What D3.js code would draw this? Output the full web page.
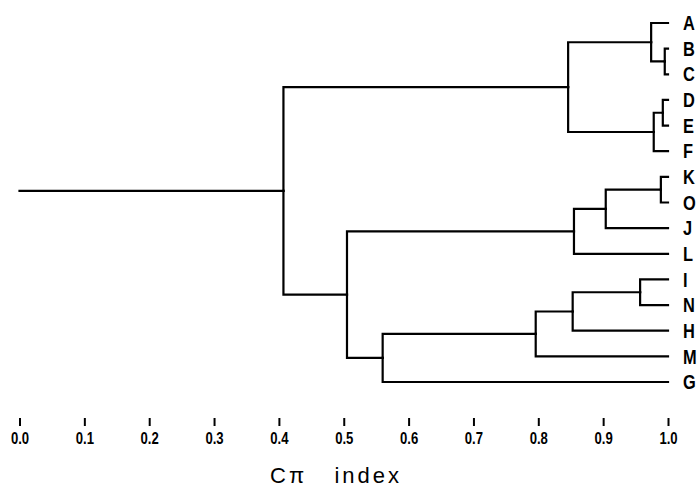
<!DOCTYPE html>
<html>
<head>
<meta charset="utf-8">
<title>Dendrogram</title>
<script src="https://d3js.org/d3.v7.min.js"></script>
<style>
  body { margin: 0; background: #fff; }
  svg { display: block; }
</style>
</head>
<body>
<svg id="chart" width="699" height="493"></svg>
<script>
// leaf order, top to bottom
const leaves = ["A", "B", "C", "D", "E", "F", "K", "O", "J", "L", "I", "N", "H", "M", "G"];

// merges: [left cluster, right cluster, Cpi index at which they join]
const merges = [
  ["B", "C", 0.995],
  ["D", "E", 0.992],
  ["K", "O", 0.989],
  ["A", "BC", 0.974],
  ["DE", "F", 0.978],
  ["I", "N", 0.957],
  ["KO", "J", 0.904],
  ["KOJ", "L", 0.855],
  ["IN", "H", 0.853],
  ["ABC", "DEF", 0.846],
  ["INH", "M", 0.796],
  ["INHM", "G", 0.560],
  ["KOJL", "INHMG", 0.505],
  ["ABCDEF", "KOJLINHMG", 0.407]
];

const tickValues = [0, 0.1, 0.2, 0.3, 0.4, 0.5, 0.6, 0.7, 0.8, 0.9, 1.0];
const tickLabels = ["0.0", "0.1", "0.2", "0.3", "0.4", "0.5", "0.6", "0.7", "0.8", "0.9", "1.0"];
const axisTitle = "Cπ   index";

const svg = d3.select("#chart");

// build the tree
const nodes = {};
leaves.forEach(n => nodes[n] = { name: n, h: 1.0 });
let treeTop;
merges.forEach(m => {
  const node = { name: m[0] + m[1], h: m[2], children: [nodes[m[0]], nodes[m[1]]] };
  nodes[node.name] = node;
  treeTop = node;
});
const root = d3.hierarchy(treeTop);

const x = d3.scaleLinear().domain([0, 1]).range([19.5, 668]);
const y = d3.scalePoint().domain(leaves).range([23, 382]);

// leaf y from order, inner node y = middle of its children
root.eachAfter(d => {
  if (!d.children) d.y = y(d.data.name);
  else d.y = d3.mean(d.children, c => c.y);
});

const g = svg.append("g")
  .attr("fill", "none")
  .attr("stroke", "#000")
  .attr("stroke-width", 2.2)
  .attr("stroke-linecap", "square");

g.selectAll("path.link")
  .data(root.links())
  .join("path")
  .attr("class", "link")
  .attr("d", l => "M" + x(l.source.data.h) + "," + l.source.y +
    "V" + l.target.y + "H" + x(l.target.data.h));

// stem of the root back to 0
g.append("path")
  .attr("d", "M" + x(0) + "," + root.y + "H" + x(root.data.h));

// leaf labels, narrow bold
svg.selectAll("text.leaf")
  .data(root.leaves())
  .join("text")
  .attr("class", "leaf")
  .attr("transform", d => "translate(683," + d.y + ") scale(0.82,1)")
  .attr("dy", "0.36em")
  .style("font-family", "'Liberation Sans', Arial, sans-serif")
  .style("font-weight", "bold")
  .style("font-size", "20px")
  .text(d => d.data.name);

// axis: tick marks and labels only
const axis = svg.append("g")
  .attr("transform", "translate(0,418)")
  .call(d3.axisBottom(x)
    .tickValues(tickValues)
    .tickFormat((d, i) => tickLabels[i])
    .tickSize(8)
    .tickPadding(7));
axis.select(".domain").remove();
axis.selectAll(".tick line").attr("stroke", "#000").attr("stroke-width", 2);
axis.selectAll(".tick text")
  .attr("fill", "#000")
  .attr("transform", "scale(0.82,1)")
  .style("font-family", "'Liberation Sans', Arial, sans-serif")
  .style("font-weight", "bold")
  .style("font-size", "16px");

svg.append("text")
  .attr("x", 270)
  .attr("y", 483)
  .style("font-family", "'Liberation Sans', Arial, sans-serif")
  .style("font-size", "22px")
  .style("letter-spacing", "3px")
  .style("white-space", "pre")
  .text(axisTitle);
</script>
</body>
</html>
